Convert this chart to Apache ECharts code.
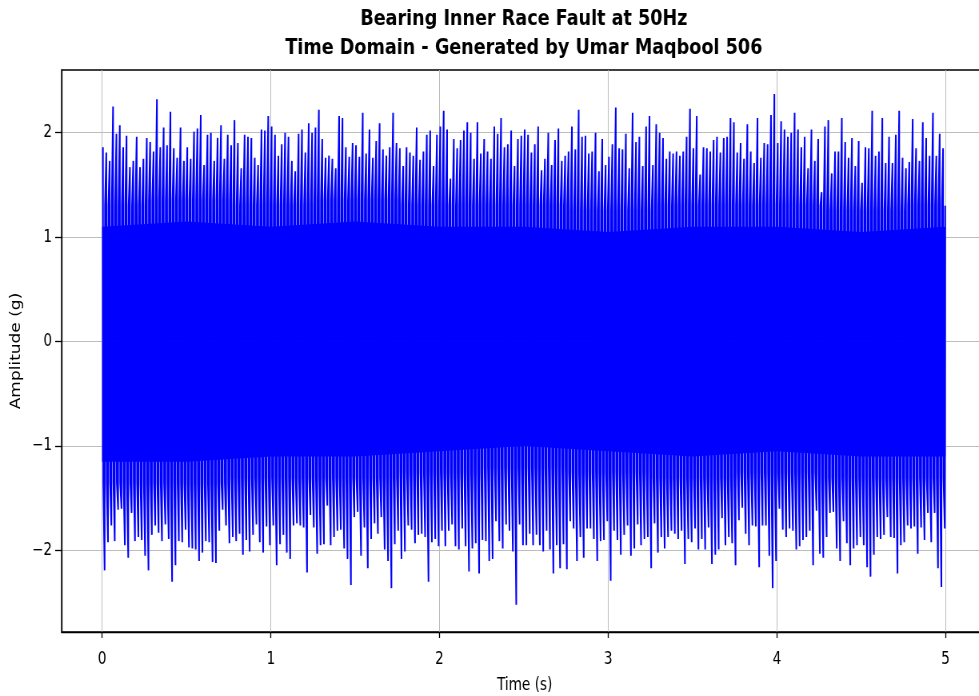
<!DOCTYPE html>
<html>
<head>
<meta charset="utf-8">
<script src="https://cdn.jsdelivr.net/npm/echarts@6/dist/echarts.min.js"></script>
<style>
  html, body { margin: 0; padding: 0; background: #fff; overflow: hidden; }
  #wrap { width: 979px; height: 696px; overflow: hidden; }
  #chart { width: 1250px; height: 696px; transform-origin: 0 0; transform: scaleX(0.7998); }
</style>
</head>
<body>
<div id="wrap"><div id="chart"></div></div>
<script>
// ---- data ----
const titleLines = ['Bearing Inner Race Fault at 50Hz', 'Time Domain - Generated by Umar Maqbool 506'];
const xTicks = [0, 1, 2, 3, 4, 5];
const yTicks = [-2, -1, 0, 1, 2];
const sampleStart = 0.005;   // s, first impact
const impactPeriod = 0.02;   // s, spacing of impacts (50 Hz)

// positive peak of each impact (g)
const topPeaks = [
  1.86,1.81,1.73,2.25,1.99,2.07,1.86,1.97,1.67,1.73,
  1.96,1.67,1.75,1.95,1.91,1.82,2.32,1.86,2.05,1.88,
  2.20,1.85,1.76,2.05,1.73,1.86,1.75,2.01,2.04,2.17,
  1.69,1.98,2.00,1.73,1.95,2.07,1.75,1.98,1.88,2.12,
  1.90,1.66,1.98,1.96,1.95,1.76,1.69,2.03,2.02,2.16,
  2.06,1.98,1.78,1.89,2.00,1.96,1.73,1.63,1.99,2.03,
  1.81,2.09,2.00,2.05,2.22,1.94,1.76,1.78,1.75,1.66,
  2.16,2.14,1.86,1.77,1.90,1.88,1.77,2.19,1.80,2.03,
  1.76,1.92,2.09,1.84,1.78,1.86,
  2.19,1.90,1.85,1.68,1.86,1.81,1.78,2.05,1.74,1.82,
  1.98,2.02,1.68,1.98,2.06,2.21,2.03,1.56,1.94,1.85,
  1.93,2.02,2.10,2.00,1.75,2.10,1.80,1.94,1.82,1.75,
  2.06,1.99,2.14,1.86,1.89,2.02,1.68,1.94,1.97,2.03,
  1.98,1.81,1.89,2.06,1.64,1.75,2.00,1.69,1.93,2.04,
  1.73,1.78,1.82,2.06,1.84,2.22,1.96,1.97,1.80,1.82,
  2.00,1.63,1.94,1.69,1.77,1.89,2.24,1.85,1.84,1.99,
  1.66,2.19,1.91,1.96,1.68,2.06,2.16,1.69,2.08,2.00,
  1.95,1.75,1.82,1.80,1.82,1.78,
  1.82,1.96,2.23,1.85,2.16,1.60,1.86,1.85,1.82,1.93,
  1.96,1.81,1.95,1.96,2.14,2.10,1.81,1.90,1.75,2.08,
  1.82,1.71,2.14,1.76,1.90,1.89,2.17,2.37,1.90,2.11,
  2.03,1.96,2.00,2.19,2.03,1.86,1.96,1.66,2.03,1.73,
  1.94,1.43,2.06,2.12,1.61,1.82,1.82,2.14,1.91,1.76,
  1.95,1.68,1.92,1.52,1.86,1.85,2.21,1.78,1.82,2.14,
  1.71,1.96,1.71,1.98,2.21,1.76,1.66,1.72,2.13,1.85,
  1.73,2.10,1.95,1.78,2.19,1.78,1.99,1.85
];

// negative peak of each impact (g)
const bottomPeaks = [
  -2.19,-1.92,-1.76,-1.91,-1.61,-1.60,-1.95,-2.07,-1.64,-1.91,
  -1.87,-1.90,-2.05,-2.19,-1.85,-1.76,-1.83,-1.91,-1.75,-1.89,
  -2.30,-2.14,-1.91,-1.92,-1.80,-1.97,-1.98,-1.99,-2.10,-2.02,
  -1.91,-1.92,-2.11,-2.12,-1.81,-1.61,-1.76,-1.93,-1.87,-1.91,
  -1.84,-2.04,-1.90,-2.01,-1.85,-1.75,-1.92,-2.02,-1.77,-1.95,
  -1.76,-2.14,-1.94,-1.85,-2.02,-2.08,-1.76,-1.74,-1.76,-1.78,
  -2.21,-1.66,-1.78,-2.03,-1.95,-1.94,-1.57,-1.95,-1.87,-1.81,
  -1.80,-1.98,-2.08,-2.33,-1.68,-1.63,-2.05,-1.78,-2.17,-1.89,
  -1.74,-1.84,-1.68,-1.99,-2.10,
  -2.36,-1.94,-1.81,-2.08,-2.01,-1.76,-1.80,-1.93,-1.85,-1.84,
  -1.87,-2.30,-1.92,-1.89,-1.96,-1.81,-1.96,-1.81,-1.75,-1.96,
  -1.99,-1.79,-1.96,-2.20,-1.98,-1.93,-2.22,-1.90,-1.91,-2.10,
  -2.08,-1.72,-1.91,-1.98,-1.75,-1.81,-2.01,-2.52,-1.75,-1.95,
  -1.95,-1.84,-1.95,-1.85,-1.95,-2.01,-1.81,-1.99,-2.22,-1.95,
  -2.17,-1.94,-2.18,-1.72,-1.79,-2.10,-1.87,-2.07,-1.79,-1.79,
  -1.89,-2.10,-1.91,-1.90,-1.72,-2.29,-1.81,-1.90,-2.04,-1.85,
  -1.76,-2.05,-1.98,-1.75,-1.95,-1.89,-1.87,-2.17,-1.74,-2.02,
  -1.87,-1.98,-1.87,-1.81,-1.84,-1.89,-1.81,
  -2.13,-1.89,-1.92,-1.79,-1.99,-1.89,-1.99,-1.78,-2.13,-2.04,
  -1.99,-1.69,-1.95,-1.87,-1.93,-2.14,-1.71,-1.59,-1.84,-1.95,
  -1.76,-1.77,-2.16,-1.76,-1.76,-2.05,-2.36,-2.10,-1.60,-1.80,
  -1.87,-1.79,-1.81,-1.99,-1.96,-1.90,-1.87,-1.81,-2.14,-1.62,
  -2.03,-2.07,-1.87,-1.64,-1.63,-1.98,-2.10,-1.72,-1.93,-2.14,
  -1.98,-1.95,-1.87,-1.95,-2.16,-2.25,-2.04,-1.87,-1.89,-1.85,
  -1.68,-1.87,-1.88,-2.22,-1.95,-1.92,-1.76,-1.79,-1.77,-2.03,
  -1.78,-1.90,-1.64,-1.92,-1.64,-2.17,-2.35,-1.79
];

// ragged edge of the dense part of the signal (where the white gaps between peaks end), every 0.5 s
const bandTime  = [0, 0.5, 1, 1.5, 2, 2.5, 3, 3.5, 4, 4.5, 5];
const bandUpper = [1.3, 1.35, 1.3, 1.35, 1.3, 1.3, 1.25, 1.3, 1.3, 1.25, 1.3];
const bandLower = [-1.35, -1.35, -1.3, -1.3, -1.25, -1.2, -1.25, -1.3, -1.25, -1.3, -1.3];
// limit of the fully solid core
const coreUpper = [1.1, 1.15, 1.1, 1.15, 1.1, 1.1, 1.05, 1.1, 1.1, 1.05, 1.1];
const coreLower = [-1.15, -1.15, -1.1, -1.1, -1.05, -1.0, -1.05, -1.1, -1.05, -1.1, -1.1];

// ---- build series data ----
const n = Math.min(topPeaks.length, bottomPeaks.length);
const signal = [];
for (let i = 0; i < n; i++) {
  const t = sampleStart + i * impactPeriod;
  const k = Math.min(bandTime.length - 1, Math.round(t / 0.5));
  signal.push([t, topPeaks[i]]);
  signal.push([t + impactPeriod * 0.12, bandLower[k]]);
  signal.push([t + impactPeriod * 0.5, bottomPeaks[i]]);
  signal.push([t + impactPeriod * 0.62, bandUpper[k]]);
}
const upperCore = bandTime.map((t, i) => [t, coreUpper[i]]);
const lowerCore = bandTime.map((t, i) => [t, coreLower[i]]);

const FONT = 'DejaVu Sans';
const BLUE = '#0000ff';
const chart = echarts.init(document.getElementById('chart'), null, { renderer: 'canvas' });
const fmtY = v => (v < 0 ? '\u2212' + Math.abs(v) : String(v));

chart.setOption({
  animation: false,
  backgroundColor: '#ffffff',
  graphic: [
    { type: 'text', x: 655, y: 19, style: { text: titleLines[0], font: 'bold 22px "DejaVu Sans"', fill: '#000', align: 'center', textAlign: 'center', verticalAlign: 'middle', textVerticalAlign: 'middle' } },
    { type: 'text', x: 655, y: 48, style: { text: titleLines[1], font: 'bold 22px "DejaVu Sans"', fill: '#000', align: 'center', textAlign: 'center', verticalAlign: 'middle', textVerticalAlign: 'middle' } }
  ],
  grid: { left: 77, top: 70, width: 1158, height: 562, show: true, borderColor: '#000', borderWidth: 1.3,
          backgroundColor: 'rgba(0,0,0,0)', containLabel: false, outerBoundsMode: 'none' },
  xAxis: {
    type: 'value', min: -0.24, max: 5.25,
    name: 'Time (s)', nameLocation: 'middle', nameGap: 45,
    nameTextStyle: { fontFamily: FONT, fontSize: 17, color: '#000' },
    axisLine: { show: true, onZero: false, lineStyle: { color: '#000', width: 1.3 } },
    axisTick: { show: true, customValues: xTicks, length: 6, lineStyle: { color: '#000', width: 1.3 } },
    axisLabel: { customValues: xTicks, margin: 19, fontFamily: FONT, fontSize: 17, color: '#000' },
    splitLine: { show: true, lineStyle: { color: '#bdbdbd', width: 1 } }
  },
  yAxis: {
    type: 'value', min: -2.78, max: 2.6,
    name: 'Amplitude (g)', nameLocation: 'middle', nameGap: 35,
    nameTextStyle: { fontFamily: FONT, fontSize: 17, color: '#000' },
    axisLine: { show: true, onZero: false, lineStyle: { color: '#000', width: 1.3 } },
    axisTick: { show: true, customValues: yTicks, length: 8, lineStyle: { color: '#000', width: 1.3 } },
    axisLabel: { customValues: yTicks, margin: 12, fontFamily: FONT, fontSize: 17, color: '#000', formatter: fmtY },
    splitLine: { show: true, lineStyle: { color: '#bdbdbd', width: 1 } }
  },
  series: [
    { type: 'line', data: upperCore, symbol: 'none', silent: true, lineStyle: { width: 0 }, areaStyle: { color: BLUE, opacity: 1 }, z: 2 },
    { type: 'line', data: lowerCore, symbol: 'none', silent: true, lineStyle: { width: 0 }, areaStyle: { color: BLUE, opacity: 1 }, z: 2 },
    { type: 'line', data: signal, symbol: 'none', showSymbol: false, silent: true,
      lineStyle: { color: BLUE, width: 2.0 }, z: 3 }
  ]
});
</script>
</body>
</html>
